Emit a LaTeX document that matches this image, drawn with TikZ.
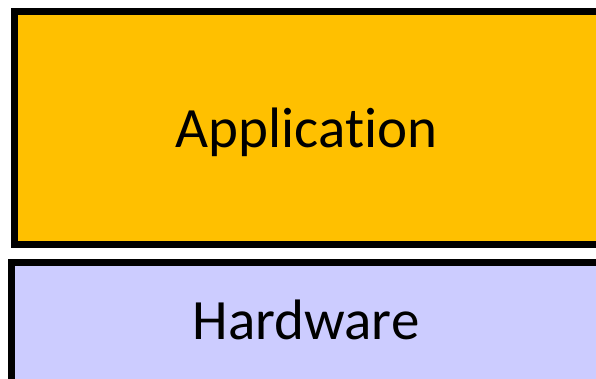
\documentclass[tikz,border=0pt]{standalone}
\usepackage{fontspec}
\setmainfont[Ligatures=NoCommon]{Carlito}
\definecolor{appfill}{HTML}{FFC000}
\definecolor{hwfill}{HTML}{CCCCFF}
\tikzset{
  layer/.style={draw=black, line width=7pt},
  layertext/.style={anchor=base, inner sep=0pt, font=\fontsize{57}{60}\selectfont}
}
\begin{document}
\begin{tikzpicture}[x=1pt,y=1pt]
  \useasboundingbox (0,0) rectangle (596,378);
  \begin{scope}
    \clip (0,0) rectangle (596,378);
    % application layer
    \draw[layer, fill=appfill] (14.5,366.5) rectangle (620,133.5);
    % hardware layer
    \draw[layer, fill=hwfill] (11.5,115.5) rectangle (599,-20);
  \end{scope}
  \node[layertext] (app) at (306.5,230) {Application};
  \node[layertext] (hw) at (306,39) {Hardware};
\end{tikzpicture}
\end{document}
